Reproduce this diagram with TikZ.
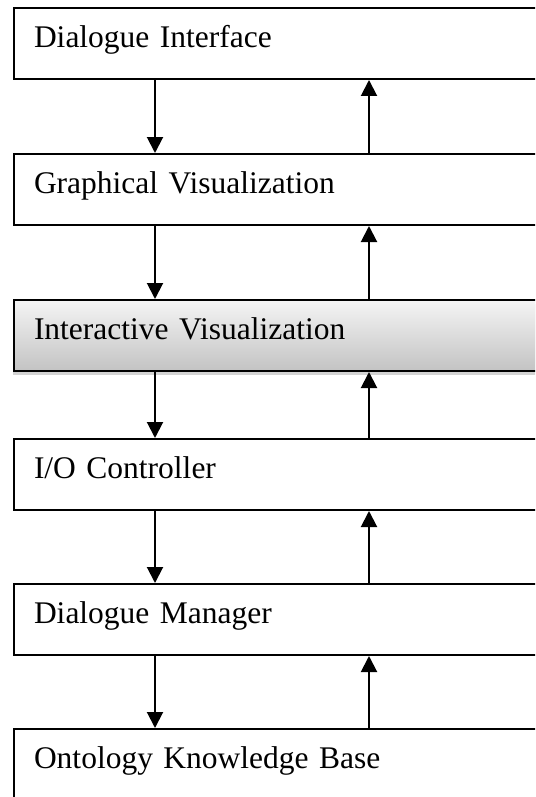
\documentclass[tikz,border=0pt]{standalone}
\usepackage{fontspec}
\setmainfont{Liberation Serif}
\usetikzlibrary{positioning,arrows.meta,shadows}
\tikzset{
    layer/.style={draw, line width=2pt, anchor=north west, inner xsep=20pt, inner ysep=0pt,
        text width=520pt, align=left, text height=39.5pt, text depth=31.5pt,
        font=\fontsize{31.5}{37}\selectfont},
    active layer/.style={layer, top color=gray!8, bottom color=gray!47,
        drop shadow={shadow xshift=-1.5pt, shadow yshift=-4pt, opacity=0.35}},
    flow/.style={line width=2pt, -{Triangle[width=16pt,length=16pt]}}
}

\begin{document}
\begin{tikzpicture}[x=1pt, y=-1pt]
    \useasboundingbox (0,0) rectangle (535,797);
    \clip (0,0) rectangle (535,797);

    % columns of the two arrow lines
    \coordinate (down) at (155,0);
    \coordinate (up) at (369,0);

    % layers
    \node[layer] (di) at (13,7) {Dialogue Interface};
    \node[layer] (gv) at (13,153) {Graphical Visualization};
    \node[active layer] (iv) at (13,299) {Interactive Visualization};
    \node[layer] (io) at (13,438) {I/O Controller};
    \node[layer] (dm) at (13,583) {Dialogue Manager};
    \node[layer] (kb) at (13,728) {Ontology Knowledge Base};

    % arrows between the layers
    \foreach \a/\b in {di/gv, gv/iv, iv/io, io/dm, dm/kb} {
        \draw[flow] (\a.south -| down) -- (\b.north -| down);
        \draw[flow] (\b.north -| up) -- (\a.south -| up);
    }
\end{tikzpicture}
\end{document}
